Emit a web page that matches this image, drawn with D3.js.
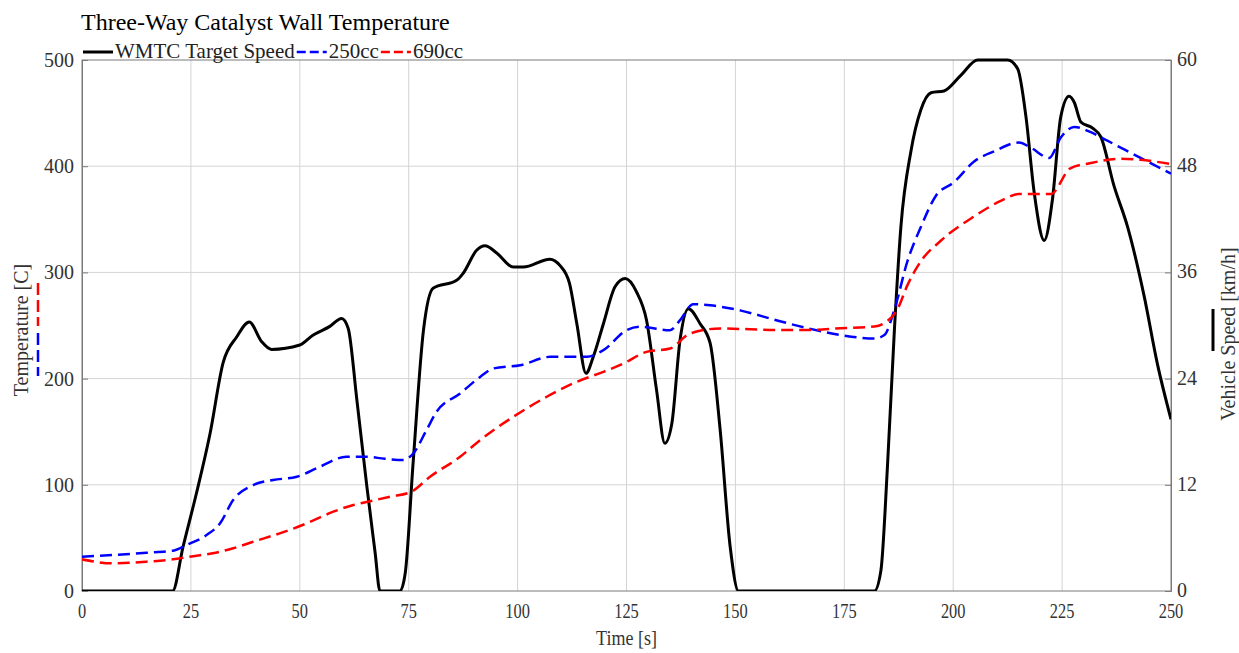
<!DOCTYPE html>
<html>
<head>
<meta charset="utf-8">
<script src="https://cdn.jsdelivr.net/npm/d3@7"></script>
<style>
  body { margin: 0; background: #fff; }
  text { font-family: "Liberation Serif", "Times New Roman", serif; }
</style>
</head>
<body>
<svg id="chart"></svg>
<script>
// data: [time s, value]
const speedData = [
  [0, 0], [20.8, 0], [23.2, 5.0], [26.3, 11.1], [29.4, 17.8], [32.4, 25.8], [35.5, 28.7],
  [38.4, 30.4], [41.2, 28.2], [43.5, 27.3], [50, 27.8], [53, 28.9], [56.9, 29.9], [59.6, 30.8],
  [61.1, 29.7], [63.1, 21.6], [65.4, 11.8], [67.3, 4.3], [68.4, 0], [73, 0], [74.2, 2],
  [76, 14.4], [78.4, 29.5], [80.6, 34.2], [86, 35.1], [87.5, 35.9], [90.6, 38.5], [92.5, 39],
  [95.2, 38.2], [99, 36.6], [101.3, 36.6], [107.4, 37.5], [109.7, 36.8], [111.9, 34.8],
  [113.6, 30.2], [115.7, 24.6], [117.4, 26.5], [119.7, 30.2], [122.4, 34.4], [124.7, 35.3],
  [127.3, 33.8], [129.6, 30.6], [131.9, 22.7], [133.8, 16.7], [135.4, 18.9], [137.3, 28.4],
  [139.2, 31.9], [141.9, 30.2], [144.2, 28], [146.5, 18.2], [148.8, 5], [150.7, 0],
  [181.9, 0], [183.4, 2.3], [184.9, 14], [186.5, 29.5], [188, 41.2], [190.3, 49.7],
  [192.6, 54.4], [194.9, 56.3], [197.9, 56.5], [201.8, 58.3], [205.6, 60], [212.5, 60],
  [214.8, 59], [216.7, 53.6], [218.6, 45], [220.9, 39.6], [222.8, 44.3], [224.7, 53.6],
  [226.6, 55.9], [227.8, 55.2], [229.3, 53], [232, 52.3], [233.9, 51.3], [236.9, 45.8],
  [240, 41.2], [243.8, 33.4], [246.9, 25.6], [250, 19.4]
];

const temp250 = [
  [0, 32.3], [7.2, 33.9], [14.8, 36], [20.9, 38], [24, 43.3], [28.6, 52.7], [31.7, 63.7],
  [34.7, 85.7], [39.3, 99.8], [43.9, 104.5], [49.3, 107.6], [54.6, 117], [60.7, 126.4],
  [65.3, 126.4], [69.5, 124.5], [73.7, 123.4], [76.1, 129.7], [79.1, 151.6], [81.4, 168.8],
  [86.8, 186], [91.4, 201.6], [94.4, 209.5], [100.6, 212.6], [107.5, 220.5], [115.9, 220.5],
  [119.7, 226.8], [125, 245.6], [128.1, 248.8], [135, 245.6], [137.3, 255], [140.3, 270.1],
  [144.2, 269], [151.3, 264], [158.9, 255.5], [166.6, 247.4], [174.2, 241], [181.9, 237.7],
  [184.2, 241], [186.5, 265], [189.5, 310.6], [192.6, 343], [196, 372], [200.2, 385],
  [204.8, 404.5], [209.4, 414], [215.1, 422.3], [217.8, 417.5], [222, 407.8], [224.7, 427],
  [227.8, 437], [231.6, 432], [235.4, 424], [243, 407.8], [250, 393]
];

const temp690 = [
  [0, 29.8], [7.2, 26], [14.8, 27.6], [20.9, 29.8], [24.7, 32.3], [30, 35.5], [34.7, 40.2],
  [39.3, 46.4], [45.4, 54.3], [51.6, 63.7], [57.7, 74.7], [62.3, 81], [66.1, 84.5],
  [70.7, 88.8], [75.6, 93.5], [79.9, 107.6], [86.8, 126.4], [91.4, 142.1], [99, 164],
  [106.7, 182.9], [113.6, 197], [119.7, 206.4], [124.3, 214.2], [129.6, 225.2], [135, 228.3],
  [139.6, 242.5], [146.5, 247.2], [153.4, 246.5], [160, 245.8], [166.6, 245.8], [174.2, 247.4],
  [181.9, 249], [184.2, 252.3], [187.2, 265.3], [189.5, 288], [192.6, 310.6], [197.2, 330],
  [204.8, 352.7], [210.9, 367.3], [215.1, 373.8], [222.4, 373.8], [226.9, 398], [231.6, 403],
  [238.5, 407], [243, 406], [250, 402]
];

// tick values
const timeTicks = [0, 25, 50, 75, 100, 125, 150, 175, 200, 225, 250];
const tempTicks = [0, 100, 200, 300, 400, 500];
const speedTicks = [0, 12, 24, 36, 48, 60];

// legend entries
const legendNames = ["WMTC Target Speed", "250cc", "690cc"];

// canvas size
const width = 1239;
const height = 653;
const plot = { left: 82, right: 1171, top: 60, bottom: 591 };

const svg = d3.select("#chart")
  .attr("width", width)
  .attr("height", height);

// scales
const x = d3.scaleLinear().domain([0, 250]).range([plot.left, plot.right]);
const yTemp = d3.scaleLinear().domain([0, 500]).range([plot.bottom, plot.top]);
const ySpeed = d3.scaleLinear().domain([0, 60]).range([plot.bottom, plot.top]);

// grid lines
const grid = svg.append("g").attr("class", "grid")
  .attr("stroke", "#d4d4d4").attr("stroke-width", 1);
grid.selectAll("line.v")
  .data(timeTicks.slice(1, -1))
  .enter().append("line")
  .attr("x1", (d) => x(d)).attr("x2", (d) => x(d))
  .attr("y1", plot.top).attr("y2", plot.bottom);
grid.selectAll("line.h")
  .data(tempTicks.slice(1, -1))
  .enter().append("line")
  .attr("x1", plot.left).attr("x2", plot.right)
  .attr("y1", (d) => yTemp(d)).attr("y2", (d) => yTemp(d));

// axes (ticks only, labels drawn below)
const leftAxis = svg.append("g")
  .attr("transform", "translate(" + plot.left + ",0)")
  .call(d3.axisRight(yTemp).tickValues(tempTicks).tickSize(6).tickFormat(""));
const rightAxis = svg.append("g")
  .attr("transform", "translate(" + plot.right + ",0)")
  .call(d3.axisLeft(ySpeed).tickValues(speedTicks).tickSize(6).tickFormat(""));
[leftAxis, rightAxis].forEach((a) => {
  a.selectAll("path").attr("stroke", "#7a7a7a");
  a.selectAll("line").attr("stroke", "#7a7a7a");
});

// frame
svg.append("rect")
  .attr("x", plot.left).attr("y", plot.top)
  .attr("width", plot.right - plot.left).attr("height", plot.bottom - plot.top)
  .attr("fill", "none").attr("stroke", "#7a7a7a").attr("stroke-width", 1);

// tick labels
svg.append("g").selectAll("text")
  .data(tempTicks)
  .enter().append("text")
  .attr("x", plot.left - 8)
  .attr("y", (d) => yTemp(d) + 7)
  .attr("text-anchor", "end")
  .attr("font-size", 20)
  .attr("fill", "#333")
  .text((d) => d);

svg.append("g").selectAll("text")
  .data(speedTicks)
  .enter().append("text")
  .attr("x", plot.right + 6)
  .attr("y", (d) => ySpeed(d) + 6)
  .attr("font-size", 20)
  .attr("fill", "#333")
  .text((d) => d);

svg.append("g").selectAll("text")
  .data(timeTicks)
  .enter().append("text")
  .attr("transform", (d) => "translate(" + x(d) + "," + (plot.bottom + 27) + ") scale(0.82,1)")
  .attr("text-anchor", "middle")
  .attr("font-size", 20)
  .attr("fill", "#333")
  .text((d) => d);

// axis titles
svg.append("text")
  .attr("transform", "translate(" + ((plot.left + plot.right) / 2) + ",645) scale(0.9,1)")
  .attr("text-anchor", "middle")
  .attr("font-size", 20)
  .attr("fill", "#333")
  .text("Time [s]");

svg.append("text")
  .attr("transform", "translate(28,330) rotate(-90)")
  .attr("text-anchor", "middle")
  .attr("font-size", 20)
  .attr("fill", "#333")
  .text("Temperature [C]");

svg.append("text")
  .attr("transform", "translate(1235,334) rotate(-90)")
  .attr("text-anchor", "middle")
  .attr("font-size", 20)
  .attr("fill", "#333")
  .text("Vehicle Speed [km/h]");

// small line samples beside the axis titles
svg.append("line")
  .attr("x1", 38).attr("x2", 38).attr("y1", 283).attr("y2", 326)
  .attr("stroke", "#ff0000").attr("stroke-width", 2.5).attr("stroke-dasharray", "12,5");
svg.append("line")
  .attr("x1", 38).attr("x2", 38).attr("y1", 333).attr("y2", 376)
  .attr("stroke", "#0000ff").attr("stroke-width", 2.5).attr("stroke-dasharray", "12,5");
svg.append("line")
  .attr("x1", 1213).attr("x2", 1213).attr("y1", 309).attr("y2", 351)
  .attr("stroke", "#000").attr("stroke-width", 3);

// clip for the lines
svg.append("clipPath").attr("id", "clip")
  .append("rect")
  .attr("x", plot.left).attr("y", plot.top - 2)
  .attr("width", plot.right - plot.left).attr("height", plot.bottom - plot.top + 2);

const lines = svg.append("g").attr("clip-path", "url(#clip)");

const tempLine = d3.line()
  .x((d) => x(d[0]))
  .y((d) => yTemp(d[1]))
  .curve(d3.curveMonotoneX);

const speedLine = d3.line()
  .x((d) => x(d[0]))
  .y((d) => ySpeed(d[1]))
  .curve(d3.curveMonotoneX);

lines.append("path")
  .datum(speedData)
  .attr("d", speedLine)
  .attr("fill", "none")
  .attr("stroke", "#000")
  .attr("stroke-width", 3)
  .attr("stroke-linejoin", "round");

lines.append("path")
  .datum(temp250)
  .attr("d", tempLine)
  .attr("fill", "none")
  .attr("stroke", "#0000ff")
  .attr("stroke-width", 2.5)
  .attr("stroke-dasharray", "12,6");

lines.append("path")
  .datum(temp690)
  .attr("d", tempLine)
  .attr("fill", "none")
  .attr("stroke", "#ff0000")
  .attr("stroke-width", 2.5)
  .attr("stroke-dasharray", "12,6");

// title
svg.append("text")
  .attr("x", 81)
  .attr("y", 30)
  .attr("font-size", 24)
  .attr("fill", "#000")
  .text("Three-Way Catalyst Wall Temperature");

// legend along the top
const legendStyles = [
  { color: "#000", dash: null, w: 3 },
  { color: "#0000ff", dash: "9,4", w: 2.5 },
  { color: "#ff0000", dash: "9,4", w: 2.5 }
];
const legend = svg.append("g").attr("class", "legend");
let lx = 83;
legendNames.forEach((name, i) => {
  const s = legendStyles[i];
  legend.append("line")
    .attr("x1", lx).attr("x2", lx + 30)
    .attr("y1", 52).attr("y2", 52)
    .attr("stroke", s.color)
    .attr("stroke-width", s.w)
    .attr("stroke-dasharray", s.dash);
  const t = legend.append("text")
    .attr("x", lx + 32)
    .attr("y", 58)
    .attr("font-size", 21)
    .attr("fill", "#222")
    .text(name);
  lx = lx + 32 + t.node().getComputedTextLength() + 2;
});
</script>
</body>
</html>
